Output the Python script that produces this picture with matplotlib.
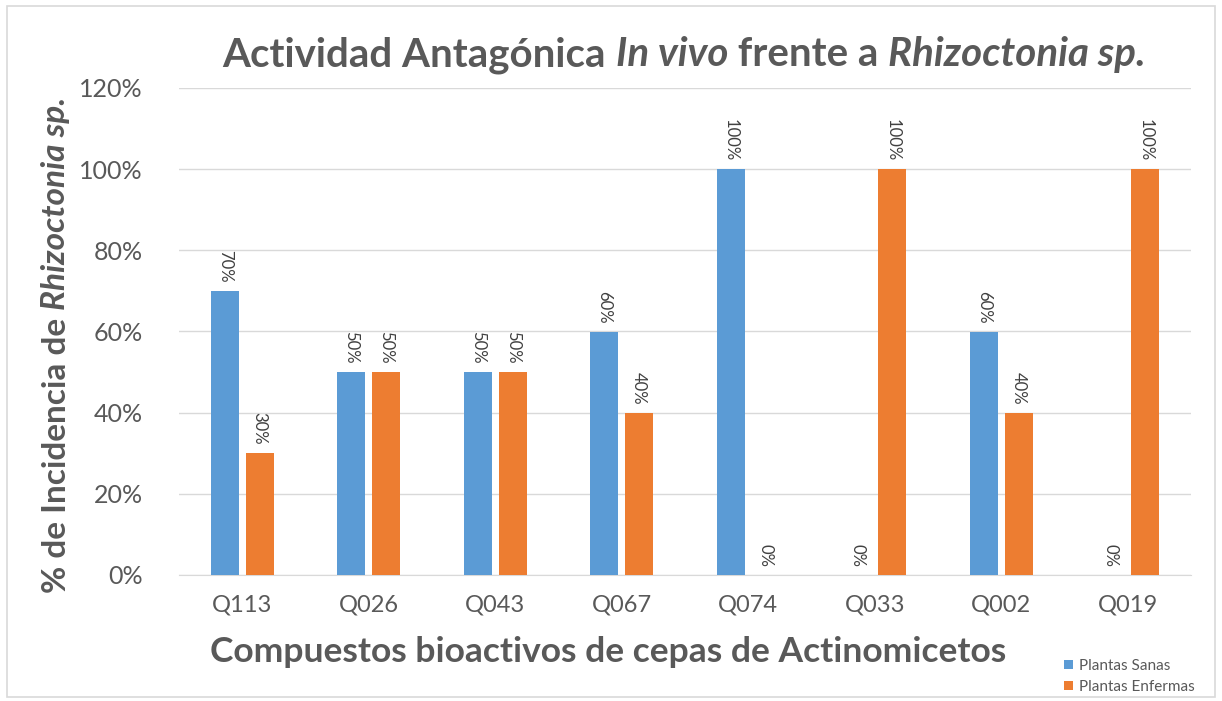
import matplotlib
matplotlib.use('Agg')
import matplotlib.pyplot as plt
from matplotlib.patches import Rectangle
from matplotlib.ticker import PercentFormatter
import numpy as np

# data
cepas = ['Q113', 'Q026', 'Q043', 'Q067', 'Q074', 'Q033', 'Q002', 'Q019']
sanas = [0.70, 0.50, 0.50, 0.60, 1.00, 0.00, 0.60, 0.00]
enfermas = [0.30, 0.50, 0.50, 0.40, 0.00, 1.00, 0.40, 1.00]
series_names = ['Plantas Sanas', 'Plantas Enfermas']

AZUL = '#5B9BD5'
NARANJA = '#ED7D31'
GRIS = '#595959'
FONT = 'Lato'

plt.rcParams['font.family'] = [FONT, 'DejaVu Sans']

W, H = 1222, 701
fig = plt.figure(figsize=(W / 100, H / 100), dpi=100)
ax = fig.add_axes([179 / W, 1 - 575 / H, (1191 - 179) / W, (575 - 88) / H])

x = np.arange(len(cepas))
off, bw = 0.138, 0.22
b1 = ax.bar(x - off, sanas, bw, color=AZUL, label=series_names[0], zorder=3)
b2 = ax.bar(x + off, enfermas, bw, color=NARANJA, label=series_names[1], zorder=3)

# rotated value labels above each bar
for bars, vals in ((b1, sanas), (b2, enfermas)):
    for rect, v in zip(bars, vals):
        ax.annotate(f'{v:.0%}', (rect.get_x() + rect.get_width() / 2, v),
                    xytext=(0, 6), textcoords='offset points',
                    rotation=270, ha='center', va='bottom',
                    fontsize=12, color='#404040')

ax.set_xlim(-0.5, len(cepas) - 0.5)
ax.set_ylim(0, 1.2)
ax.set_yticks(np.arange(0, 1.21, 0.2))
ax.yaxis.set_major_formatter(PercentFormatter(1.0, decimals=0))
ax.set_xticks(x)
ax.set_xticklabels(cepas)
ax.tick_params(length=0, labelcolor=GRIS)
ax.tick_params(axis='x', labelsize=17, pad=14)
ax.tick_params(axis='y', labelsize=18, pad=26)
ax.grid(axis='y', color='#D9D9D9', linewidth=1, zorder=0)
for s in ('top', 'right', 'left'):
    ax.spines[s].set_visible(False)
ax.spines['bottom'].set_color('#D9D9D9')

leg = fig.legend(loc='upper left', bbox_to_anchor=(1064 / W, 1 - 659 / H),
                 frameon=False, fontsize=11, labelcolor=GRIS,
                 handlelength=0.6, handleheight=0.6, handletextpad=0.4,
                 labelspacing=0.45, borderpad=0, borderaxespad=0)

# chart border
fig.patches.append(Rectangle((7 / W, 1 - 697 / H), (1215 - 7) / W, (697 - 6) / H,
                             transform=fig.transFigure, fill=False,
                             edgecolor='#D9D9D9', linewidth=1.2))


def rich_text(cx, cy, pieces, rotation=0, **kw):
    # place text pieces with different styles side by side, centred on (cx, cy) pixels
    r = fig.canvas.get_renderer()
    txts = [fig.text(0, 0, s, fontstyle=st, rotation=rotation,
                     ha='left', va='baseline' if rotation == 0 else 'center',
                     rotation_mode='anchor', **kw) for s, st in pieces]
    sizes = []
    for t in txts:
        bb = t.get_window_extent(r)
        sizes.append(bb.width if rotation == 0 else bb.height)
    pos = -sum(sizes) / 2
    for t, sz in zip(txts, sizes):
        if rotation == 0:
            t.set_position(((cx + pos) / W, 1 - cy / H))
        else:
            t.set_position((cx / W, 1 - (cy - pos) / H))
        pos += sz


rich_text(684, 66, [('Actividad Antagónica ', 'normal'), ('In vivo', 'italic'),
                    (' frente a ', 'normal'), ('Rhizoctonia sp.', 'italic')],
          fontsize=29, fontweight='bold', color=GRIS)
rich_text(608, 662, [('Compuestos bioactivos de cepas de Actinomicetos', 'normal')],
          fontsize=25.5, fontweight='bold', color=GRIS)
rich_text(56, 345, [('% de Incidencia de ', 'normal'), ('Rhizoctonia sp.', 'italic')],
          rotation=90, fontsize=24, fontweight='bold', color=GRIS)

fig.savefig('out.png', dpi=100)
